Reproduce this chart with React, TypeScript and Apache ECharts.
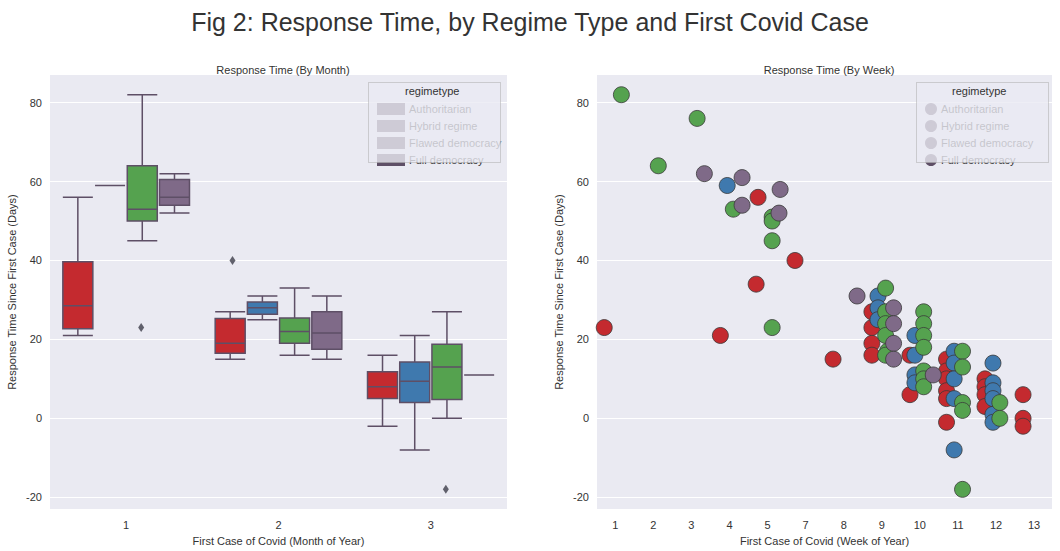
import React, { useEffect, useRef } from 'react';
import * as echarts from 'echarts';

const regimes = ['Authoritarian', 'Hybrid regime', 'Flawed democracy', 'Full democracy'];
const colors = ['#c42a2f', '#3f79ae', '#55a24f', '#7f6a88'];
const months = ['1', '2', '3'];
const weekLabels = ['1', '2', '3', '4', '5', '7', '8', '9', '10', '11', '12', '13'];
const yTicks = [-20, 0, 20, 40, 60, 80];

// [min, Q1, median, Q3, max] per month
const boxAuthoritarian = [[21, 22.7, 28.5, 39.7, 56], [15, 16.5, 19, 25.3, 27], [-2, 5, 8, 11.8, 16]];
const boxHybrid = [[59, 59, 59, 59, 59], [25, 26.4, 28, 29.5, 31], [-8, 4, 9.4, 14.3, 21]];
const boxFlawed = [[45, 50, 53, 64, 82], [16, 19, 22, 25.4, 33], [0, 4.8, 13, 18.8, 27]];
const boxFull = [[52, 54, 56, 60.5, 62], [15, 17.5, 21.6, 27, 31], [11, 11, 11, 11, 11]];

// outliers: [month index, value]
const outAuthoritarian = [[1, 40]];
const outFlawed = [[0, 23], [2, -18]];

// scatter: [week position, days]
const ptsAuthoritarian = [
  [-0.29, 23], [2.76, 21], [3.7, 34], [3.75, 56], [4.72, 40], [5.72, 15],
  [6.74, 27], [6.74, 23], [6.74, 19], [6.74, 16], [7.74, 16], [7.74, 6],
  [8.7, 15], [8.7, 12], [8.7, 10], [8.7, 7], [8.7, 5], [8.7, -1],
  [9.71, 10], [9.71, 8], [9.71, 6], [9.71, 3], [10.71, 6], [10.71, 0], [10.71, -2],
];
const ptsHybrid = [
  [2.94, 59], [6.9, 31], [6.9, 28], [6.9, 25], [7.87, 21], [7.87, 16], [7.87, 11], [7.87, 9],
  [8.9, 17], [8.9, 14], [8.9, 10], [8.9, 5], [8.9, -8],
  [9.92, 14], [9.92, 9], [9.92, 7], [9.92, 5], [9.92, 1], [9.92, -1],
];
const ptsFlawed = [
  [0.16, 82], [1.13, 64], [2.15, 76], [3.1, 53], [4.12, 51], [4.12, 50], [4.12, 45], [4.12, 23],
  [7.1, 33], [7.1, 27], [7.1, 24], [7.1, 21], [7.15, 17], [7.1, 16],
  [8.1, 27], [8.1, 24], [8.1, 21], [8.1, 18], [8.1, 12], [8.1, 10], [8.1, 8],
  [9.12, 17], [9.12, 13], [9.12, 4], [9.12, 2], [9.12, -18], [10.1, 4], [10.1, 0],
];
const ptsFull = [
  [2.34, 62], [3.33, 61], [3.33, 54], [4.33, 58], [4.3, 52], [6.35, 31],
  [7.31, 28], [7.31, 24], [7.31, 19], [7.31, 15], [8.35, 11],
];

const boxData = [boxAuthoritarian, boxHybrid, boxFlawed, boxFull];
const outData = [outAuthoritarian, [], outFlawed, []];
const outOffsets = [-46, 0, 15, 0];
const ptsData = [ptsAuthoritarian, ptsHybrid, ptsFlawed, ptsFull];

const App: React.FC = () => {
  const chartRef = useRef<HTMLDivElement | null>(null);

  useEffect(() => {
    if (!chartRef.current) return;
    const chart = echarts.init(chartRef.current, undefined, { renderer: 'svg' });
    const font = 'Arial, "Liberation Sans", sans-serif';
    const axisText = { color: '#333', fontSize: 11, fontFamily: font };

    const yAxis = (gridIndex: number) => ({
      type: 'value',
      gridIndex,
      min: -23,
      max: 87,
      name: 'Response Time Since First Case (Days)',
      nameLocation: 'middle',
      nameGap: 33,
      nameTextStyle: axisText,
      axisLine: { show: false },
      axisTick: { show: false, customValues: yTicks },
      axisLabel: { ...axisText, customValues: yTicks },
      splitLine: { show: false },
    });

    const series: any[] = [];
    regimes.forEach((name, i) => {
      series.push({
        name,
        type: 'boxplot',
        xAxisIndex: 0,
        yAxisIndex: 0,
        boxWidth: [30, 30],
        data: boxData[i],
        itemStyle: { color: colors[i], borderColor: '#5e4f66', borderWidth: 1.5 },
      });
    });
    regimes.forEach((name, i) => {
      if (!outData[i].length) return;
      series.push({
        name,
        type: 'scatter',
        xAxisIndex: 0,
        yAxisIndex: 0,
        symbol: 'diamond',
        symbolSize: [6, 9],
        symbolOffset: [outOffsets[i], 0],
        data: outData[i],
        itemStyle: { color: '#3d3d4a' },
      });
    });
    regimes.forEach((name, i) => {
      series.push({
        name,
        type: 'scatter',
        xAxisIndex: 1,
        yAxisIndex: 1,
        symbolSize: 16,
        data: ptsData[i],
        itemStyle: { color: colors[i], borderColor: '#3a3a3a', borderWidth: 0.8, opacity: 1 },
      });
    });

    // white horizontal grid lines
    const gridLines = (xi: number) => ({
      type: 'line',
      xAxisIndex: xi,
      yAxisIndex: xi,
      data: [],
      silent: true,
      markLine: {
        silent: true,
        symbol: 'none',
        label: { show: false },
        lineStyle: { color: '#fff', type: 'solid', width: 1 },
        data: yTicks.map((v) => ({ yAxis: v })),
        z: 0,
      },
      z: 0,
    });
    series.unshift(gridLines(0), gridLines(1));

    const legendBase = {
      orient: 'vertical',
      itemWidth: 26,
      itemHeight: 10,
      itemGap: 5,
      textStyle: { color: '#333', fontSize: 11, fontFamily: font },
      data: regimes,
      selectedMode: false,
    };

    chart.setOption({
      animation: false,
      title: [
        { text: 'Fig 2: Response Time, by Regime Type and First Covid Case', left: 'center', top: 4, textStyle: { fontSize: 25, fontWeight: 'normal', color: '#333', fontFamily: font } },
        { text: 'Response Time (By Month)', left: 278, top: 59, textAlign: 'center', textStyle: { fontSize: 11, fontWeight: 'normal', color: '#333', fontFamily: font } },
        { text: 'Response Time (By Week)', left: 824, top: 59, textAlign: 'center', textStyle: { fontSize: 11, fontWeight: 'normal', color: '#333', fontFamily: font } },
      ],
      grid: [
        { left: 50, top: 75, width: 457, height: 435, backgroundColor: '#eaeaf2', show: true, borderWidth: 0 },
        { left: 597, top: 75, width: 455, height: 435, backgroundColor: '#eaeaf2', show: true, borderWidth: 0 },
      ],
      xAxis: [
        {
          type: 'category',
          gridIndex: 0,
          data: months,
          name: 'First Case of Covid (Month of Year)',
          nameLocation: 'middle',
          nameGap: 20,
          nameTextStyle: axisText,
          axisLine: { show: false },
          axisTick: { show: false },
          axisLabel: { ...axisText, margin: 10 },
          splitLine: { show: false },
        },
        {
          type: 'value',
          gridIndex: 1,
          min: -0.48,
          max: 11.47,
          name: 'First Case of Covid (Week of Year)',
          nameLocation: 'middle',
          nameGap: 20,
          nameTextStyle: axisText,
          axisLine: { show: false },
          axisTick: { show: false, customValues: weekLabels.map((_, i) => i) },
          axisLabel: { ...axisText, margin: 10, customValues: weekLabels.map((_, i) => i), formatter: (v: number) => weekLabels[Math.round(v)] },
          splitLine: { show: false },
        },
      ],
      yAxis: [yAxis(0), yAxis(1)],
      legend: [
        { ...legendBase, left: 372, top: 98, icon: 'rect' },
        { ...legendBase, left: 920, top: 98, icon: 'circle', itemWidth: 10, itemHeight: 10, itemGap: 5 },
      ],
      graphic: [
        { type: 'rect', left: 368, top: 82, shape: { width: 132, height: 80 }, style: { fill: 'rgba(234,234,242,0.8)', stroke: '#aaa', lineDash: [1, 1], lineWidth: 1 }, z: 5 },
        { type: 'text', left: 405, top: 85, style: { text: 'regimetype', fill: '#333', font: `11px ${font}` }, z: 6 },
        { type: 'rect', left: 916, top: 82, shape: { width: 132, height: 80 }, style: { fill: 'rgba(234,234,242,0.8)', stroke: '#aaa', lineDash: [1, 1], lineWidth: 1 }, z: 5 },
        { type: 'text', left: 952, top: 85, style: { text: 'regimetype', fill: '#333', font: `11px ${font}` }, z: 6 },
      ],
      series,
    });

    return () => {
      chart.dispose();
    };
  }, []);

  return <div ref={chartRef} style={{ position: 'fixed', left: 0, top: 0, width: 1060, height: 551, background: '#fff' }} />;
};

export default App;
